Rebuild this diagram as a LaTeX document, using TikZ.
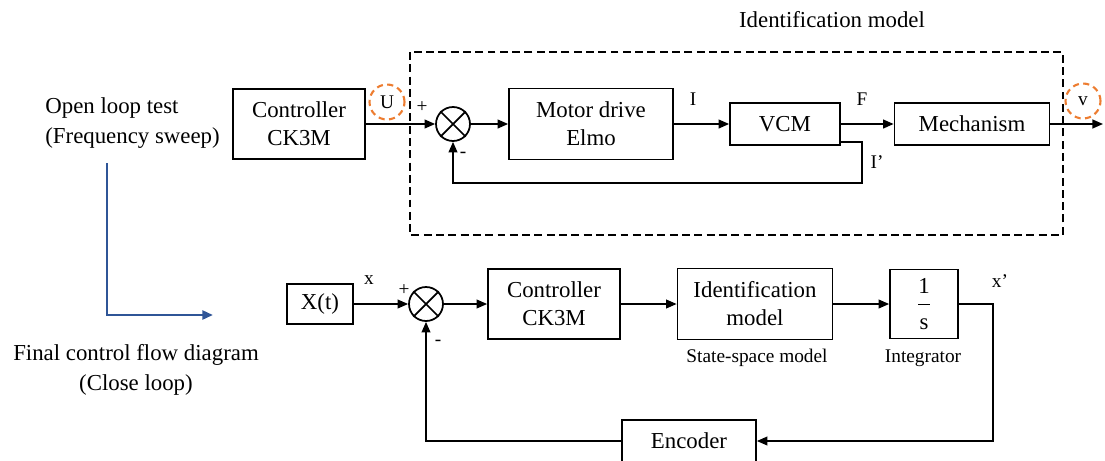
\documentclass[tikz,border=0pt]{standalone}
\usepackage{fontspec}
\setmainfont{Liberation Serif}
\usetikzlibrary{arrows.meta,calc}
\definecolor{sweepblue}{HTML}{2F5597}
\definecolor{probeorange}{HTML}{ED7D31}
\begin{document}
\begin{tikzpicture}[x=0.02cm,y=-0.02cm,
  blk/.style={draw,line width=1pt,inner sep=0pt,align=center,font=\fontsize{13}{16}\selectfont},
  sumpt/.style={draw,line width=1pt,circle,minimum size=0.68cm,inner sep=0pt},
  sig/.style={-{Triangle[length=6pt,width=5pt]},line width=1pt},
  thinsig/.style={-{Triangle[length=6pt,width=5pt]},line width=0.8pt},
  lbl/.style={inner sep=0pt,font=\fontsize{11}{13}\selectfont},
  txt/.style={inner sep=0pt,align=center,font=\fontsize{13}{16}\selectfont},
  probe/.style={draw=probeorange,line width=1.2pt,dash pattern=on 3.5pt off 2.5pt,circle,minimum size=0.7cm,inner sep=0pt,font=\fontsize{11}{13}\selectfont}]
\useasboundingbox (0,0) rectangle (1105,460);
% open loop identification
\draw[line width=0.9pt,dash pattern=on 4.5pt off 2.5pt] (410,52) rectangle (1063,235);
\node[txt](idtitle) at (832,20){Identification model};
\node[txt,anchor=west,align=left](olt) at (45,123){Open loop test\\[1pt](Frequency sweep)};
\draw(299,124)node[blk,minimum width=2.64cm,minimum height=1.4cm](ctrla){Controller\\CK3M}
  (453,124)node[sumpt](suma){}
  (591,124)node[blk,minimum width=3.28cm,minimum height=1.42cm](drive){Motor drive\\Elmo}
  (785,124)node[blk,minimum width=2.2cm,minimum height=0.84cm](vcm){VCM}
  (972,124)node[blk,minimum width=3.1cm,minimum height=0.84cm](mech){Mechanism};
\coordinate(vout) at (1103,124);
\coordinate(ifb) at (862,183);
\draw[sig](ctrla) -- (suma);
\draw[sig](suma) -- (drive);
\draw[sig](drive) -- node[lbl,pos=0.35,above=10pt]{I}(vcm);
\draw[sig](vcm) -- node[lbl,pos=0.4,above=10pt]{F}(mech);
\draw[sig](mech) -- (vout);
\draw[sig]($(vcm.south east)+(0,-4)$) -| (ifb) -| (suma.south);
\node[lbl](ilab) at (877,162){I'};
\node[lbl](pa) at (422,107){+};
\node[lbl](ma) at (463,155){-};
\node[probe](pu) at (387,102){U};
\node[probe](pv) at (1083,101){v};
% closed loop
\node[txt](fcf) at (136,370){Final control flow diagram\\[1pt](Close loop)};
\draw(320,304)node[blk,minimum width=1.32cm,minimum height=0.8cm](xin){X(t)}
  (426,304)node[sumpt](sumb){}
  (554,304)node[blk,minimum width=2.64cm,minimum height=1.4cm](ctrlb){Controller\\CK3M}
  (755,304)node[blk,minimum width=3.1cm,minimum height=1.42cm](idm){Identification\\model}
  (924,304)node[blk,minimum width=1.36cm,minimum height=1.38cm](integ){$\displaystyle\frac{\textrm{1}\rule[-5pt]{0pt}{5pt}}{\textrm{s}\rule{0pt}{13pt}}$}
  (689,441)node[blk,minimum width=2.68cm,minimum height=0.84cm](enc){Encoder};
\coordinate(xq) at (993,441);
\draw[thinsig](xin) -- (sumb);
\draw[thinsig](sumb) -- (ctrlb);
\draw[thinsig](ctrlb) -- (idm);
\draw[thinsig](idm) -- (integ);
\draw[thinsig](integ) -| (xq) -- (enc);
\draw[thinsig](enc) -| (sumb.south);
\node[lbl](xlab) at (369,280){x};
\node[lbl](xplab) at (1000,281){x'};
\node[lbl](pb) at (404,290){+};
\node[lbl](mb) at (438,343){-};
\node[lbl](ssm) at (757,358){State-space model};
\node[lbl](intg) at (923,358){Integrator};
\foreach \s in {suma,sumb}
  \draw[line width=1pt](\s.45) -- (\s.225) (\s.135) -- (\s.315);
% flow from open loop to closed loop
\coordinate(bla) at (107,163);
\coordinate(blb) at (213,315);
\draw[sweepblue,line width=1.6pt,-{Triangle[length=6pt,width=5pt]}](bla) |- (blb);
\end{tikzpicture}
\end{document}
